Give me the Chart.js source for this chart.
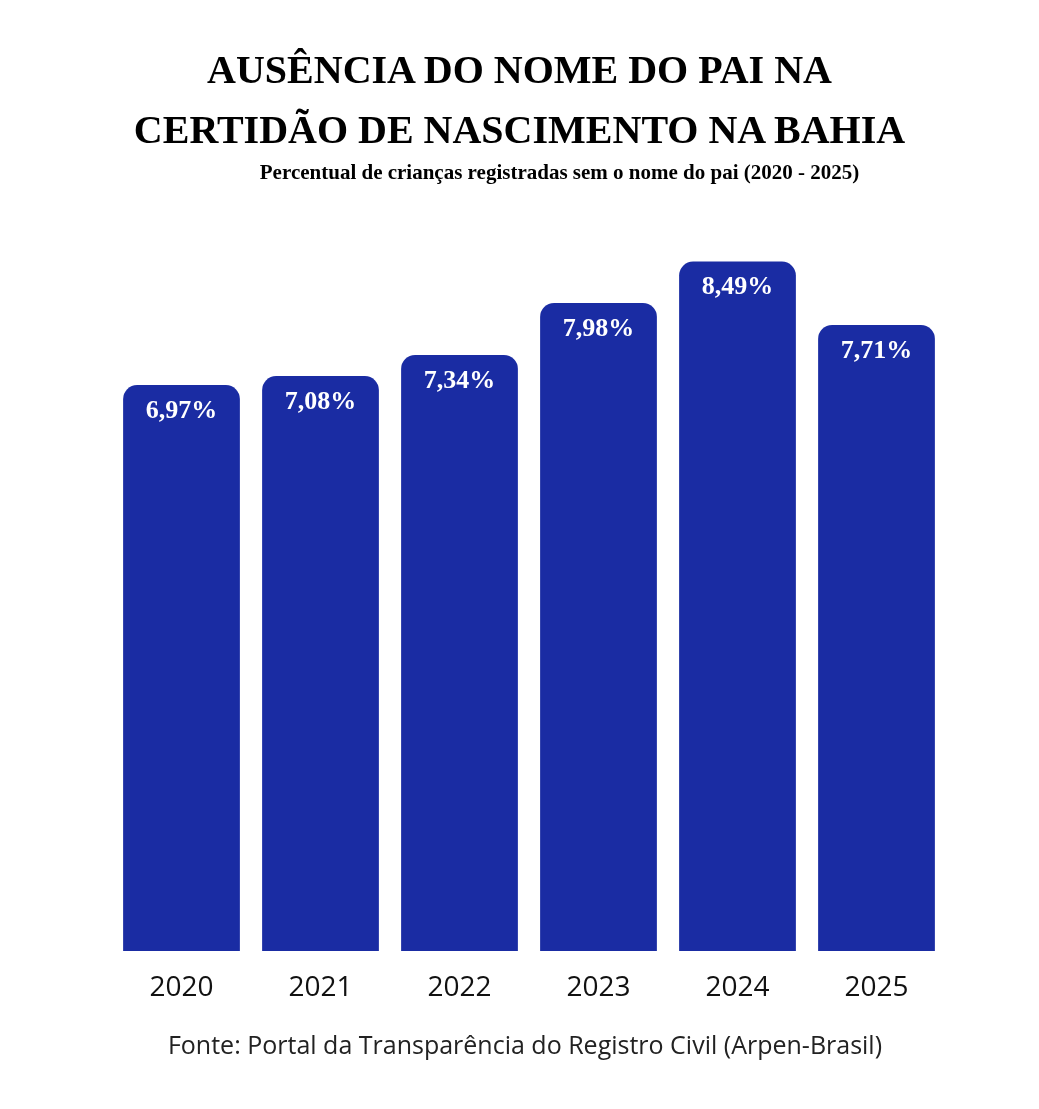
<!DOCTYPE html>
<html>
<head>
<meta charset="utf-8">
<script src="https://cdn.jsdelivr.net/npm/chart.js@4/dist/chart.umd.min.js"></script>
<style>
  body { margin: 0; background: #fff; }
  #wrap { position: relative; width: 1039px; height: 1109px; }
  canvas { position: absolute; left: 0; top: 0; }
  .txt { position: absolute; left: 0; width: 1039px; text-align: center; color: #000; }
  #titulo { top: 40px; font: bold 40px "Liberation Serif", serif; line-height: 60px; left: 0; }
  #sub { top: 160px; font: bold 21px "Liberation Serif", serif; left: 40px; }
  #fonte { top: 1026px; left: 140px; width: 770px; font: 25px "Open Sans", sans-serif; line-height: 36px; color: #222; }
</style>
</head>
<body>
<div id="wrap">
  <canvas id="grafico" width="1039" height="1109"></canvas>
  <div class="txt" id="titulo">AUSÊNCIA DO NOME DO PAI NA<br>CERTIDÃO DE NASCIMENTO NA BAHIA</div>
  <div class="txt" id="sub">Percentual de crianças registradas sem o nome do pai (2020 - 2025)</div>
  <div class="txt" id="fonte">Fonte: Portal da Transparência do Registro Civil (Arpen-Brasil)</div>
</div>
<script>
// Dados do gráfico
const anos = ['2020', '2021', '2022', '2023', '2024', '2025'];
const percentuais = [6.97, 7.08, 7.34, 7.98, 8.49, 7.71];

// Rótulos dentro das barras
const rotulos = {
    id: 'rotulos',
    afterDatasetsDraw(chart) {
        const ctx = chart.ctx;
        ctx.save();
        ctx.fillStyle = '#fff';
        ctx.font = 'bold 26px "Liberation Serif", serif';
        ctx.textAlign = 'center';
        ctx.textBaseline = 'middle';
        chart.getDatasetMeta(0).data.forEach((barra, i) => {
            const texto = percentuais[i].toFixed(2).replace('.', ',') + '%';
            ctx.fillText(texto, barra.x, barra.y + 26);
        });
        ctx.restore();
    }
};

new Chart(document.getElementById('grafico').getContext('2d'), {
    type: 'bar',
    data: {
        labels: anos,
        datasets: [{
            data: percentuais,
            backgroundColor: '#1a2ca3',
            borderRadius: { topLeft: 14, topRight: 14, bottomLeft: 0, bottomRight: 0 },
            borderSkipped: 'bottom',
            barPercentage: 0.84,
            categoryPercentage: 1
        }]
    },
    options: {
        responsive: false,
        animation: false,
        layout: { padding: { left: 112, right: 93, top: 139, bottom: 98 } },
        plugins: { legend: { display: false }, tooltip: { enabled: false } },
        scales: {
            y: { display: false, min: 0, max: 10 },
            x: {
                grid: { display: false },
                border: { display: false },
                ticks: { color: '#111', padding: 12, font: { family: 'Open Sans', size: 28 } },
                afterFit(scale) { scale.height = 60; }
            }
        }
    },
    plugins: [rotulos]
});
</script>
</body>
</html>
